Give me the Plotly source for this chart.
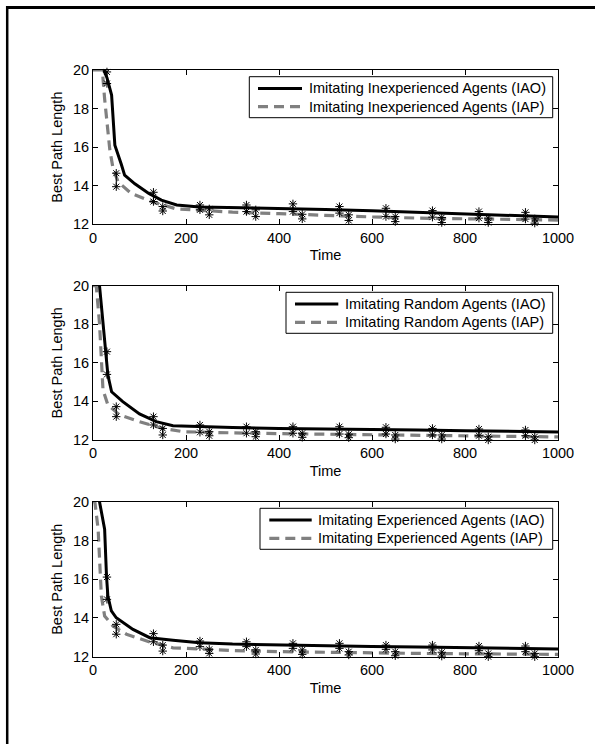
import plotly.graph_objects as go

# ---------------- data ----------------
# Panel 1: Imitating Inexperienced Agents
p1_iao_t = [23, 30, 40, 47, 61, 68, 90, 120, 147, 180, 229, 300, 400, 500, 600, 700, 800, 900, 1000]
p1_iao_y = [20.0, 19.6, 18.7, 16.1, 15.1, 14.55, 14.1, 13.6, 13.25, 13.0, 12.9, 12.87, 12.82, 12.77, 12.7, 12.62, 12.55, 12.48, 12.38]
p1_iap_t = [0, 20, 25, 36, 43, 54, 82, 129, 179, 250, 300, 400, 500, 600, 700, 800, 900, 1000]
p1_iap_y = [20.0, 20.0, 18.5, 15.9, 14.9, 14.2, 13.6, 13.15, 12.8, 12.68, 12.63, 12.55, 12.45, 12.38, 12.32, 12.28, 12.25, 12.22]
p1_iao_err_t = [30, 130, 230, 330, 430, 530, 630, 730, 830, 930]
p1_iao_err_lo = [19.3, 13.18, 12.75, 12.66, 12.66, 12.58, 12.4, 12.37, 12.32, 12.27]
p1_iao_err_hi = [19.9, 13.66, 13.0, 13.0, 13.06, 12.92, 12.83, 12.71, 12.66, 12.62]
p1_iap_err_t = [50, 150, 250, 350, 450, 550, 650, 750, 850, 950]
p1_iap_err_lo = [13.95, 12.69, 12.49, 12.4, 12.28, 12.2, 12.14, 12.09, 12.09, 12.06]
p1_iap_err_hi = [14.65, 12.92, 12.8, 12.75, 12.52, 12.49, 12.4, 12.35, 12.32, 12.28]

# Panel 2: Imitating Random Agents
p2_iao_t = [14, 32, 40, 64, 100, 136, 172, 229, 300, 400, 500, 600, 700, 800, 900, 1000]
p2_iao_y = [20.0, 15.37, 14.5, 13.99, 13.35, 12.95, 12.74, 12.69, 12.65, 12.6, 12.58, 12.55, 12.52, 12.48, 12.45, 12.42]
p2_iap_t = [0, 7, 14, 18, 21.5, 32, 57, 100, 150, 194, 229, 300, 400, 500, 600, 700, 800, 900, 1000]
p2_iap_y = [20.0, 20.0, 18.05, 16.32, 14.6, 13.82, 13.3, 12.95, 12.6, 12.43, 12.4, 12.37, 12.33, 12.3, 12.27, 12.23, 12.2, 12.18, 12.16]
p2_iao_err_t = [30, 130, 230, 330, 430, 530, 630, 730, 830, 930]
p2_iao_err_lo = [15.4, 12.78, 12.4, 12.35, 12.35, 12.31, 12.31, 12.26, 12.22, 12.22]
p2_iao_err_hi = [16.58, 13.21, 12.78, 12.69, 12.69, 12.69, 12.66, 12.6, 12.57, 12.52]
p2_iap_err_t = [50, 150, 250, 350, 450, 550, 650, 750, 850, 950]
p2_iap_err_lo = [13.21, 12.26, 12.22, 12.17, 12.14, 12.12, 12.05, 12.05, 12.0, 12.0]
p2_iap_err_hi = [13.73, 12.6, 12.43, 12.43, 12.35, 12.3, 12.26, 12.26, 12.17, 12.17]

# Panel 3: Imitating Experienced Agents
p3_iao_t = [14, 25, 29, 32, 39.5, 50, 86, 122, 172, 229, 300, 400, 500, 600, 700, 800, 900, 1000]
p3_iao_y = [20.0, 18.58, 16.17, 15.13, 14.36, 14.01, 13.41, 12.98, 12.85, 12.72, 12.65, 12.6, 12.57, 12.53, 12.5, 12.46, 12.43, 12.4]
p3_iap_t = [0, 4, 11, 14, 18, 25, 43, 72, 122, 172, 229, 300, 400, 500, 600, 700, 800, 900, 1000]
p3_iap_y = [20.0, 20.0, 18.58, 16.85, 15.13, 14.1, 13.58, 13.16, 12.76, 12.46, 12.38, 12.32, 12.26, 12.22, 12.19, 12.17, 12.15, 12.13, 12.12]
p3_iao_err_t = [30, 130, 230, 330, 430, 530, 630, 730, 830, 930]
p3_iao_err_lo = [14.96, 12.77, 12.52, 12.52, 12.43, 12.43, 12.38, 12.35, 12.31, 12.26]
p3_iao_err_hi = [16.11, 13.19, 12.81, 12.77, 12.69, 12.69, 12.6, 12.6, 12.55, 12.55]
p3_iap_err_t = [50, 150, 250, 350, 450, 550, 650, 750, 850, 950]
p3_iap_err_lo = [13.16, 12.29, 12.17, 12.14, 12.12, 12.09, 12.05, 12.03, 12.0, 12.0]
p3_iap_err_hi = [13.67, 12.6, 12.38, 12.35, 12.35, 12.26, 12.26, 12.23, 12.17, 12.17]

legend_labels = [
    ["Imitating Inexperienced Agents (IAO)", "Imitating Inexperienced Agents (IAP)"],
    ["Imitating Random Agents (IAO)", "Imitating Random Agents (IAP)"],
    ["Imitating Experienced Agents (IAO)", "Imitating Experienced Agents (IAP)"],
]
x_ticks = [0, 200, 400, 600, 800, 1000]
y_ticks = [12, 14, 16, 18, 20]
x_title = "Time"
y_title = "Best Path Length"

# ---------------- layout constants ----------------
W, H = 595, 744
FONT = "Liberation Sans, Arial, Helvetica, sans-serif"
FS = 14.5
GRAY = "#808080"
DASH = "10px,6px"


def px(xp):
    return xp / W


def py(yp):
    return 1 - yp / H


x_domain = [px(93), px(558)]
domains = [
    [py(224.3), py(70)],
    [py(440), py(285.7)],
    [py(656.7), py(501.7)],
]

panels = [
    (p1_iao_t, p1_iao_y, p1_iap_t, p1_iap_y, p1_iao_err_t, p1_iao_err_lo, p1_iao_err_hi,
     p1_iap_err_t, p1_iap_err_lo, p1_iap_err_hi),
    (p2_iao_t, p2_iao_y, p2_iap_t, p2_iap_y, p2_iao_err_t, p2_iao_err_lo, p2_iao_err_hi,
     p2_iap_err_t, p2_iap_err_lo, p2_iap_err_hi),
    (p3_iao_t, p3_iao_y, p3_iap_t, p3_iap_y, p3_iao_err_t, p3_iao_err_lo, p3_iao_err_hi,
     p3_iap_err_t, p3_iap_err_lo, p3_iap_err_hi),
]

fig = go.Figure()


def err_xy(ts, lo, hi):
    xs, ys = [], []
    for t, a, b in zip(ts, lo, hi):
        xs += [t, t, None]
        ys += [a, b, None]
    return xs, ys


for i, (at, ay, bt, by, et1, el1, eh1, et2, el2, eh2) in enumerate(panels):
    xa = "x" if i == 0 else f"x{i+1}"
    ya = "y" if i == 0 else f"y{i+1}"
    fig.add_trace(go.Scatter(x=bt, y=by, mode="lines", xaxis=xa, yaxis=ya,
                             line=dict(color=GRAY, width=3.2, dash=DASH), showlegend=False))
    fig.add_trace(go.Scatter(x=at, y=ay, mode="lines", xaxis=xa, yaxis=ya,
                             line=dict(color="black", width=3), showlegend=False))
    for ts, lo, hi in ((et1, el1, eh1), (et2, el2, eh2)):
        xs, ys = err_xy(ts, lo, hi)
        fig.add_trace(go.Scatter(x=xs, y=ys, mode="lines+markers", xaxis=xa, yaxis=ya,
                                 line=dict(color="black", width=1),
                                 marker=dict(symbol="asterisk-open", size=7,
                                             line=dict(color="black", width=1)),
                                 cliponaxis=False, showlegend=False, connectgaps=False))

axis_common = dict(showline=True, linecolor="black", linewidth=1, mirror="ticks",
                   ticks="inside", ticklen=5, tickwidth=1, tickcolor="black",
                   showgrid=False, zeroline=False, automargin=False,
                   tickfont=dict(family=FONT, size=FS, color="black"))

layout = dict(width=W, height=H, margin=dict(l=0, r=0, t=0, b=0, pad=0),
              paper_bgcolor="white", plot_bgcolor="white",
              font=dict(family=FONT, size=FS, color="black"), showlegend=False)

for i in range(3):
    xk = "xaxis" if i == 0 else f"xaxis{i+1}"
    yk = "yaxis" if i == 0 else f"yaxis{i+1}"
    ya = "y" if i == 0 else f"y{i+1}"
    xa = "x" if i == 0 else f"x{i+1}"
    layout[xk] = dict(axis_common, domain=x_domain, anchor=ya, range=[0, 1000],
                      tickvals=x_ticks,
                      title=dict(text=x_title, font=dict(family=FONT, size=FS, color="black"), standoff=5))
    layout[yk] = dict(axis_common, domain=domains[i], anchor=xa, range=[12, 20],
                      tickvals=y_ticks,
                      title=dict(text=y_title, font=dict(family=FONT, size=FS, color="black"), standoff=6))

fig.update_layout(**layout)

# manual legends (pixel geometry of boxes)
legend_geo = [
    # box_left, box_top, line_x0, line_x1, text_x
    (249.3, 76.7, 258, 302, 307),
    (286, 292.3, 295, 338.3, 343.3),
    (260, 508.3, 269.3, 311.7, 315.7),
]
box_right = 552.7
shapes = []
annotations = []
for i, (bl, bt, lx0, lx1, tx) in enumerate(legend_geo):
    shapes.append(dict(type="rect", xref="paper", yref="paper", layer="above",
                       x0=px(bl), x1=px(box_right), y0=py(bt + 41), y1=py(bt),
                       line=dict(color="black", width=1), fillcolor="white"))
    for j, (col, dash, wd) in enumerate((("black", "solid", 3), (GRAY, DASH, 3.2))):
        yy = bt + 11.8 + 18.2 * j
        shapes.append(dict(type="line", xref="paper", yref="paper", layer="above",
                           x0=px(lx0), x1=px(lx1), y0=py(yy), y1=py(yy),
                           line=dict(color=col, width=wd, dash=dash)))
        annotations.append(dict(xref="paper", yref="paper", x=px(tx), y=py(yy),
                                xanchor="left", yanchor="middle", showarrow=False,
                                text=legend_labels[i][j],
                                font=dict(family=FONT, size=FS, color="black")))

# page frame (top and left edges), inside the paper
shapes.append(dict(type="line", xref="paper", yref="paper", x0=px(6), x1=1,
                   y0=py(7.5), y1=py(7.5), line=dict(color="black", width=3)))
shapes.append(dict(type="line", xref="paper", yref="paper", x0=px(7.2), x1=px(7.2),
                   y0=py(6), y1=0, line=dict(color="black", width=2.5)))

fig.update_layout(shapes=shapes, annotations=annotations)
fig.write_html("out.html")
